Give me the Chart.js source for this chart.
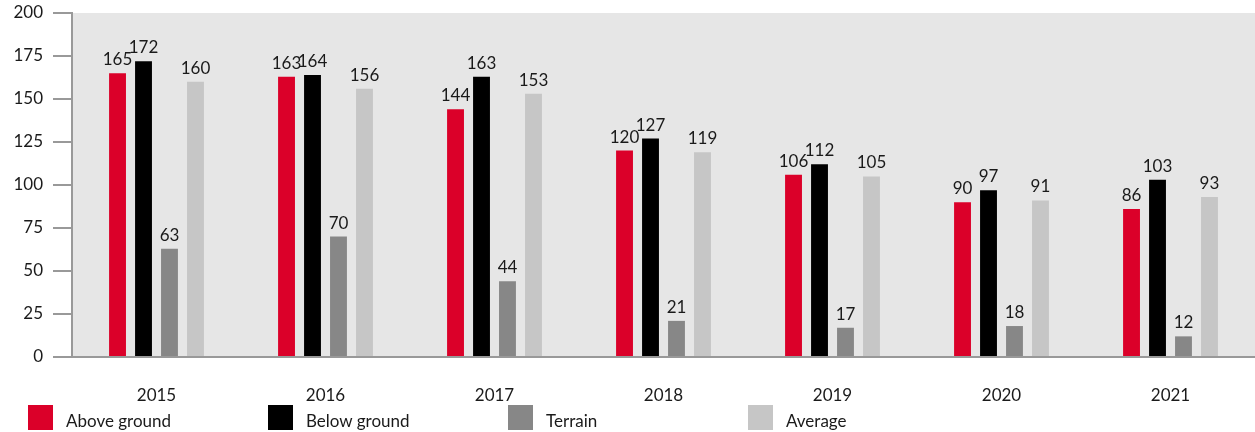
<!DOCTYPE html>
<html>
<head>
<meta charset="utf-8">
<script src="https://cdn.jsdelivr.net/npm/chart.js@4/dist/chart.umd.min.js"></script>
<style>
  html, body { margin: 0; padding: 0; background: #fff; }
  #wrap { position: relative; width: 1255px; height: 432px; }
  #legend { position: absolute; left: 28px; top: 405px; font-family: 'Lato', sans-serif; font-size: 17px; color: #1a1a1a; }
  .item { position: absolute; top: 0; width: 240px; white-space: nowrap; }
  .box { position: absolute; left: 0; top: 0; width: 25px; height: 25px; }
  .lbl { position: absolute; left: 38px; top: 5px; }
</style>
</head>
<body>
<div id="wrap">
  <canvas id="barChart" width="1255" height="432"></canvas>
  <div id="legend"></div>
</div>
<script>
// Data
const years = ['2015', '2016', '2017', '2018', '2019', '2020', '2021'];
const aboveGround = [165, 163, 144, 120, 106, 90, 86];
const belowGround = [172, 164, 163, 127, 112, 97, 103];
const terrain = [63, 70, 44, 21, 17, 18, 12];
const average = [160, 156, 153, 119, 105, 91, 93];
const seriesNames = ['Above ground', 'Below ground', 'Terrain', 'Average'];
const seriesColors = ['#db0029', '#000000', '#878787', '#c6c6c6'];

const fontFamily = "'Lato', sans-serif";

// Grey plot background
const plotBackground = {
    id: 'plotBackground',
    beforeDraw(chart) {
        const { ctx, chartArea } = chart;
        ctx.save();
        ctx.fillStyle = '#e6e6e6';
        ctx.fillRect(chartArea.left, chartArea.top, chartArea.right - chartArea.left, chartArea.bottom - chartArea.top);
        ctx.restore();
    }
};

// Value labels above bars
const valueLabels = {
    id: 'valueLabels',
    afterDatasetsDraw(chart) {
        const ctx = chart.ctx;
        ctx.save();
        ctx.font = '17px ' + fontFamily;
        ctx.fillStyle = '#1a1a1a';
        ctx.textAlign = 'center';
        ctx.textBaseline = 'bottom';
        chart.data.datasets.forEach((ds, i) => {
            chart.getDatasetMeta(i).data.forEach((bar, j) => {
                ctx.fillText(ds.data[j], bar.x, bar.y - 5);
            });
        });
        ctx.restore();
    }
};

const datasets = [aboveGround, belowGround, terrain, average].map((data, i) => ({
    label: seriesNames[i],
    data: data,
    backgroundColor: seriesColors[i],
    categoryPercentage: 0.615,
    barPercentage: 0.65
}));

const barChart = new Chart(document.getElementById('barChart').getContext('2d'), {
    type: 'bar',
    data: { labels: years, datasets: datasets },
    options: {
        responsive: false,
        animation: false,
        layout: { padding: { top: 13, right: 0, left: 0, bottom: 0 } },
        plugins: {
            legend: { display: false },
            tooltip: { enabled: false }
        },
        scales: {
            x: {
                grid: { display: false },
                border: { display: true, color: '#999999', width: 2 },
                ticks: { color: '#1a1a1a', font: { family: fontFamily, size: 17 }, padding: 20 },
                afterFit(scale) { scale.height = 75; }
            },
            y: {
                min: 0,
                max: 200,
                ticks: { stepSize: 25, color: '#1a1a1a', font: { family: fontFamily, size: 17 }, padding: 10 },
                grid: { drawOnChartArea: false, drawTicks: true, tickLength: 19, color: '#999999', lineWidth: 2 },
                border: { display: true, color: '#999999', width: 2 },
                afterFit(scale) {
                    scale.width = 72;
                    scale.paddingTop = 0;
                    scale.paddingBottom = 0;
                }
            }
        }
    },
    plugins: [plotBackground, valueLabels]
});

// Legend
const legend = document.getElementById('legend');
seriesNames.forEach((name, i) => {
    const item = document.createElement('div');
    item.className = 'item';
    item.style.left = (i * 240) + 'px';
    item.innerHTML = '<div class="box" style="background:' + seriesColors[i] + '"></div><span class="lbl">' + name + '</span>';
    legend.appendChild(item);
});
</script>
</body>
</html>
